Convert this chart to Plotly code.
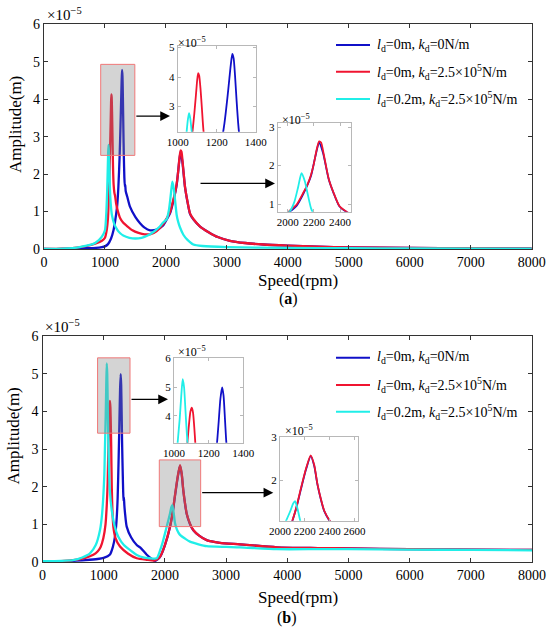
import plotly.graph_objects as go

W, H = 550, 629
SERIF = "Liberation Serif"

# amplitudes are in units of 1e-5 m, speeds in rpm
# ---------------- panel (a) ----------------
speed_a_blue = [0, 300, 500, 700, 850, 950, 1000, 1050, 1100, 1140, 1170, 1200, 1220, 1240,
                1255, 1265, 1273, 1280, 1287, 1294, 1302, 1310, 1318, 1326, 1332, 1340, 1365,
                1410, 1500, 1575, 1650, 1740, 1850, 1950, 2013, 2067, 2120, 2177, 2210, 2240,
                2270, 2313, 2350, 2395, 2450, 2560, 2700, 2850, 3050, 3300, 3600, 4000, 4500,
                5000, 6000, 7000, 8000]
amp_a_blue = [0.0, 0.0, 0.01, 0.02, 0.03, 0.05, 0.07, 0.13, 0.28, 0.5, 0.78, 1.15, 1.65, 2.45,
              3.3, 3.95, 4.45, 4.78, 4.62, 4.05, 3.2, 2.45, 1.92, 1.66, 1.72, 1.55, 1.4,
              1.13, 0.85, 0.69, 0.57, 0.5, 0.52, 0.62, 0.79, 0.95, 1.27, 1.72, 2.22, 2.6,
              2.33, 1.65, 1.29, 0.94, 0.79, 0.6, 0.45, 0.32, 0.22, 0.16, 0.12, 0.09, 0.06,
              0.045, 0.03, 0.02, 0.015]

speed_a_red = [0, 300, 500, 700, 850, 950, 1000, 1030, 1050, 1065, 1075, 1085, 1093, 1100, 1105,
               1110, 1117, 1124, 1132, 1142, 1155, 1168, 1185, 1210, 1250, 1300, 1357, 1450,
               1550, 1650, 1750, 1850, 1950, 2013, 2067, 2120, 2150, 2177, 2200, 2220, 2240,
               2255, 2275, 2295, 2313, 2350, 2395, 2450, 2560, 2700, 2850, 3050, 3300, 3600,
               4000, 4500, 5000, 6000, 7000, 8000]
amp_a_red = [0.0, 0.01, 0.03, 0.08, 0.15, 0.22, 0.3, 0.52, 0.85, 1.5, 2.1, 2.75, 3.35, 3.9, 4.13,
             4.05, 3.6, 2.95, 2.2, 1.72, 1.5, 1.4, 1.2, 1.02, 0.82, 0.7, 0.62, 0.5,
             0.43, 0.39, 0.4, 0.48, 0.65, 0.82, 0.98, 1.3, 1.5, 1.75, 2.05, 2.4, 2.63,
             2.6, 2.3, 1.95, 1.66, 1.3, 0.95, 0.8, 0.6, 0.45, 0.32, 0.22, 0.16, 0.12,
             0.09, 0.06, 0.045, 0.03, 0.02, 0.015]

speed_a_cyan = [0, 300, 500, 700, 800, 900, 950, 1000, 1020, 1035, 1045, 1052, 1058, 1064, 1072,
                1082, 1095, 1115, 1150, 1200, 1250, 1300, 1400, 1500, 1600, 1700, 1800, 1900,
                1950, 2013, 2050, 2080, 2105, 2130, 2150, 2177, 2200, 2230, 2286, 2350, 2450,
                2600, 3000, 4000, 5000, 6000, 8000]
amp_a_cyan = [0.0, 0.01, 0.03, 0.09, 0.13, 0.24, 0.33, 0.5, 0.9, 1.5, 2.1, 2.55, 2.78, 2.62, 2.15,
              1.6, 1.2, 0.9, 0.68, 0.52, 0.42, 0.36, 0.3, 0.28, 0.3, 0.36, 0.46, 0.6,
              0.7, 0.8, 1.05, 1.45, 1.8, 1.6, 1.3, 0.9, 0.73, 0.58, 0.38, 0.25, 0.12,
              0.08, 0.05, 0.03, 0.02, 0.015, 0.01]

# ---------------- panel (b) ----------------
speed_b_blue = [0, 300, 500, 700, 900, 1000, 1103, 1150, 1185, 1210, 1228, 1245, 1258, 1268, 1278,
                1286, 1294, 1300, 1306, 1312, 1318, 1324, 1330, 1338, 1350, 1376, 1450, 1540,
                1600, 1700, 1780, 1840, 1920, 2000, 2084, 2130, 2166, 2209, 2247, 2275, 2301,
                2330, 2356, 2410, 2465, 2560, 2683, 2900, 3228, 3828, 4500, 5000, 6000, 7000, 8000]
amp_b_blue = [0.0, 0.01, 0.03, 0.05, 0.08, 0.11, 0.2, 0.4, 0.68, 1.1, 1.7, 2.8, 3.8, 4.6, 4.99,
              4.7, 3.9, 3.25, 2.75, 2.3, 1.9, 1.62, 1.72, 1.5, 1.28, 0.94, 0.65, 0.45,
              0.38, 0.2, 0.09, 0.03, 0.13, 0.44, 0.93, 1.34, 1.76, 2.24, 2.55, 2.33, 1.9,
              1.54, 1.28, 1.01, 0.84, 0.7, 0.58, 0.51, 0.47, 0.39, 0.37, 0.36, 0.34, 0.33, 0.32]

speed_b_red = [0, 300, 500, 700, 830, 900, 950, 994, 1030, 1050, 1065, 1075, 1085, 1095, 1103,
               1110, 1117, 1123, 1132, 1142, 1157, 1190, 1267, 1400, 1540, 1700, 1838, 1920,
               2000, 2084, 2130, 2166, 2209, 2247, 2275, 2301, 2330, 2356, 2410, 2465, 2560,
               2683, 2900, 3228, 3828, 4500, 5000, 6000, 7000, 8000]
amp_b_red = [0.0, 0.02, 0.05, 0.11, 0.19, 0.28, 0.4, 0.63, 1.0, 1.5, 2.1, 2.9, 3.6, 4.15, 4.28,
             4.1, 3.6, 3.05, 2.0, 1.4, 0.95, 0.65, 0.41, 0.22, 0.1, 0.06, 0.04, 0.14,
             0.45, 0.94, 1.35, 1.78, 2.26, 2.57, 2.35, 1.91, 1.55, 1.29, 1.02, 0.85, 0.7,
             0.58, 0.51, 0.47, 0.39, 0.37, 0.36, 0.34, 0.33, 0.32]

speed_b_cyan = [0, 300, 503, 650, 776, 870, 940, 975, 1010, 1020, 1033, 1042, 1050, 1058, 1066,
                1075, 1085, 1100, 1131, 1180, 1239, 1330, 1430, 1550, 1647, 1750, 1866, 1920,
                1960, 2002, 2040, 2084, 2105, 2121, 2140, 2166, 2200, 2247, 2330, 2410, 2550,
                2683, 3000, 3228, 3828, 4500, 5000, 6000, 7000, 8000]
amp_b_cyan = [0.02, 0.03, 0.05, 0.12, 0.23, 0.45, 0.85, 1.3, 2.3, 3.0, 3.9, 4.7, 5.27, 5.0, 4.2,
              3.3, 2.6, 1.9, 1.38, 0.95, 0.67, 0.45, 0.32, 0.18, 0.12, 0.1, 0.1, 0.3,
              0.5, 0.76, 1.0, 1.29, 1.45, 1.51, 1.35, 1.03, 0.85, 0.72, 0.62, 0.54, 0.47,
              0.42, 0.4, 0.39, 0.34, 0.34, 0.34, 0.33, 0.32, 0.31]

legend_labels = [
    "<i>l</i><sub>d</sub>=0m, <i>k</i><sub>d</sub>=0N/m",
    "<i>l</i><sub>d</sub>=0m, <i>k</i><sub>d</sub>=2.5×10<sup>5</sup>N/m",
    "<i>l</i><sub>d</sub>=0.2m, <i>k</i><sub>d</sub>=2.5×10<sup>5</sup>N/m",
]
colors = ["#1010c8", "#f01430", "#20eee8"]

main_xticks = [0, 1000, 2000, 3000, 4000, 5000, 6000, 7000, 8000]
main_yticks = [0, 1, 2, 3, 4, 5, 6]


def px(x):
    return x / W


def py(y):
    return 1 - y / H


fig = go.Figure()

panels = {
    "a": [(speed_a_blue, amp_a_blue), (speed_a_red, amp_a_red), (speed_a_cyan, amp_a_cyan)],
    "b": [(speed_b_blue, amp_b_blue), (speed_b_red, amp_b_red), (speed_b_cyan, amp_b_cyan)],
}
# (panel, xaxis, yaxis, line width)
plots = [("a", "x", "y", 2.3), ("a", "x3", "y3", 1.8), ("a", "x4", "y4", 1.8),
         ("b", "x2", "y2", 2.3), ("b", "x5", "y5", 1.8), ("b", "x6", "y6", 1.8)]
for panel, xa, ya, lw in plots:
    for (s, a), c in zip(panels[panel], colors):
        fig.add_trace(go.Scatter(x=s, y=a, mode="lines", xaxis=xa, yaxis=ya,
                                 line=dict(color=c, width=lw, shape="spline", smoothing=0.6),
                                 showlegend=False, hoverinfo="skip"))

main_axis = dict(showline=True, linecolor="#333333", linewidth=1.2, mirror="ticks",
                 ticks="inside", ticklen=4, tickcolor="#333333", showgrid=False, zeroline=False,
                 automargin=False, tickangle=0,
                 tickfont=dict(family=SERIF, size=14, color="black"))
inset_axis = dict(showline=True, linecolor="#b8b8b8", linewidth=1, mirror="ticks",
                  ticks="inside", ticklen=3, tickcolor="#b8b8b8", showgrid=False, zeroline=False,
                  automargin=False, tickangle=0,
                  tickfont=dict(family=SERIF, size=11, color="black"))

fig.update_layout(
    width=W, height=H, autosize=False,
    margin=dict(l=0, r=0, t=0, b=0),
    paper_bgcolor="white", plot_bgcolor="white",
    xaxis=dict(main_axis, domain=[px(44), px(531.7)], range=[0, 8000], tickvals=main_xticks, anchor="y"),
    yaxis=dict(main_axis, domain=[py(249), py(24.3)], range=[0, 6], tickvals=main_yticks, anchor="x"),
    xaxis2=dict(main_axis, domain=[px(42.5), px(532)], range=[0, 8000], tickvals=main_xticks, anchor="y2"),
    yaxis2=dict(main_axis, domain=[py(562), py(336)], range=[0, 6], tickvals=main_yticks, anchor="x2"),
    xaxis3=dict(inset_axis, domain=[px(177.7), px(255.7)], range=[1000, 1400], tickvals=[1000, 1200, 1400], anchor="y3"),
    yaxis3=dict(inset_axis, domain=[py(131.7), py(46)], range=[2.15, 5.05], tickvals=[3, 4, 5], anchor="x3"),
    xaxis4=dict(inset_axis, domain=[px(277.7), px(351)], range=[1923, 2484], tickvals=[2000, 2200, 2400], anchor="y4"),
    yaxis4=dict(inset_axis, domain=[py(211.7), py(123.3)], range=[0.8, 3.1], tickvals=[1, 2, 3], anchor="x4"),
    xaxis5=dict(inset_axis, domain=[px(174), px(243.3)], range=[1000, 1400], tickvals=[1000, 1200, 1400], anchor="y5"),
    yaxis5=dict(inset_axis, domain=[py(442.7), py(358.3)], range=[3.06, 6.0], tickvals=[4, 5, 6], anchor="x5"),
    xaxis6=dict(inset_axis, domain=[px(280), px(358.3)], range=[2000, 2630], tickvals=[2000, 2200, 2400, 2600], anchor="y6"),
    yaxis6=dict(inset_axis, domain=[py(520.7), py(436.7)], range=[1.06, 3.0], tickvals=[2, 3], anchor="x6"),
)

# shaded zoom windows on the main plots
for xr, yr, x0, x1, y0, y1 in [("x", "y", 930, 1490, 2.5, 4.93),
                               ("x2", "y2", 900, 1430, 3.42, 5.42),
                               ("x2", "y2", 1909, 2585, 0.94, 2.71)]:
    fig.add_shape(type="rect", xref=xr, yref=yr, x0=x0, x1=x1, y0=y0, y1=y1, layer="above",
                  fillcolor="rgba(128,128,128,0.34)", line=dict(color="#f07878", width=1))

# arrows towards the insets
for xr, yr, xt, xh, yv in [("x", "y", 1490, 2067, 3.55), ("x", "y", 2543, 3789, 1.75),
                           ("x2", "y2", 1430, 2051, 4.32), ("x2", "y2", 2585, 3772, 1.84)]:
    fig.add_annotation(x=xh, y=yv, ax=xt, ay=yv, xref=xr, yref=yr, axref=xr, ayref=yr,
                       text="", showarrow=True, arrowhead=2, arrowsize=1.5, arrowwidth=1.3,
                       arrowcolor="black")

# exponent labels
for x, y, size in [(45, 14, 15), (42.5, 326, 15), (176, 42, 12), (280, 119, 12),
                   (176, 351, 12), (283, 430, 12)]:
    fig.add_annotation(x=px(x), y=py(y), xref="paper", yref="paper", xanchor="left",
                       yanchor="middle", showarrow=False, text="×10<sup>−5</sup>",
                       font=dict(family=SERIF, size=size, color="black"))

# axis titles and captions
for x, y, txt, ang, size in [(16, 125, "Amplitude(m)", -90, 17), (12.5, 436, "Amplitude(m)", -90, 17),
                             (298, 281, "Speed(rpm)", 0, 17), (298, 597, "Speed(rpm)", 0, 17),
                             (288, 299, "(<b>a</b>)", 0, 16), (287, 618, "(<b>b</b>)", 0, 16)]:
    fig.add_annotation(x=px(x), y=py(y), xref="paper", yref="paper", xanchor="center",
                       yanchor="middle", showarrow=False, text=txt, textangle=ang,
                       font=dict(family=SERIF, size=size, color="black"))

# legends
for rows in [(45, 71.7, 99), (357.7, 385, 411.7)]:
    for yrow, lab, c in zip(rows, legend_labels, colors):
        fig.add_shape(type="line", xref="paper", yref="paper", x0=px(336), x1=px(370),
                      y0=py(yrow), y1=py(yrow), line=dict(color=c, width=2))
        fig.add_annotation(x=px(375), y=py(yrow), xref="paper", yref="paper", xanchor="left",
                           yanchor="middle", showarrow=False, text=lab,
                           font=dict(family=SERIF, size=14, color="black"))

# the page's default body margin would push the 550x629 figure off the window
fig.write_html("out.html", config={"displayModeBar": False},
               post_script="document.body.style.margin='0';")
